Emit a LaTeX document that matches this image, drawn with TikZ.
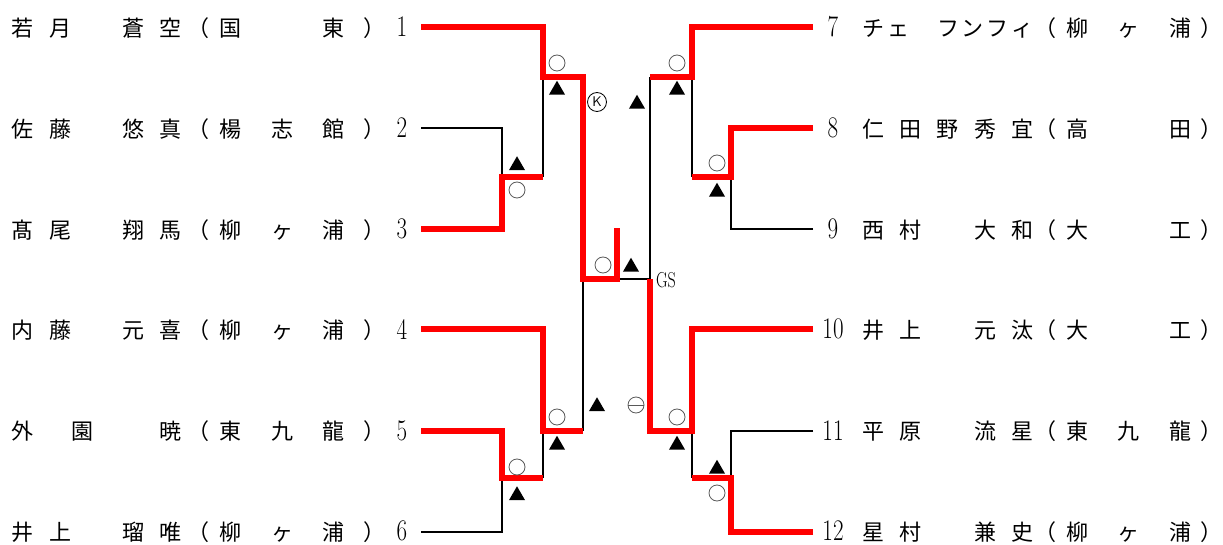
\documentclass[tikz,border=0pt]{standalone}
\usepackage{fontspec}
\newfontfamily\jpfont{Noto Sans CJK JP}
\newfontfamily\jphalt[RawFeature=+halt]{Noto Sans CJK JP}
\usetikzlibrary{shapes.geometric}
\definecolor{winred}{RGB}{255,0,0}
\newcommand\jrow[3]{\foreach \xx/\cc [count=\ii] in {#3} {\node[jp] (#1c\ii) at (\xx,#2) {\cc};}}
\newcommand\lpar{{\jphalt （}}
\newcommand\rpar{{\jphalt ）}}
\begin{document}
\begin{tikzpicture}[x=1pt,y=-1pt,
  jp/.style={font=\jpfont\fontsize{22}{22}\selectfont, inner sep=0pt, anchor=center, text height=16.6pt, text depth=0pt},
  num/.style={font=\fontsize{23}{23}\selectfont, inner sep=0pt, anchor=center},
  win/.style={line width=5.5pt, draw=winred, line join=miter},
  lose/.style={line width=2.6pt, draw=black},
  maru/.style={circle, draw=black!65, line width=0.8pt, minimum size=16pt, inner sep=0pt},
  tri/.style={regular polygon, regular polygon sides=3, minimum size=18.5pt, fill=black, inner sep=0pt},
]
\useasboundingbox (0,0) rectangle (1223,545);

% ---- left names ----
\jrow{L1}{28}{23/若,60/月,133/蒼,170/空,204/\lpar,230/国,333/東,369/\rpar}
\jrow{L2}{129}{23/佐,60/藤,133/悠,170/真,204/\lpar,230/楊,282/志,333/館,369/\rpar}
\jrow{L3}{230}{23/髙,60/尾,133/翔,170/馬,204/\lpar,230/柳,282/ヶ,333/浦,369/\rpar}
\jrow{L4}{330}{23/内,60/藤,133/元,170/喜,204/\lpar,230/柳,282/ヶ,333/浦,369/\rpar}
\jrow{L5}{431}{23/外,82/園,170/暁,204/\lpar,230/東,282/九,333/龍,369/\rpar}
\jrow{L6}{532}{23/井,60/上,133/瑠,170/唯,204/\lpar,230/柳,282/ヶ,333/浦,369/\rpar}
\foreach \n/\yy in {1/27,2/128,3/229,4/329,5/431,6/531}
  {\node[num] (Ln\n) at (402,\yy) {\scalebox{1}[1.3]{\n}};}

% ---- right names ----
\jrow{R7}{28}{873/チ,898/ェ,948/フ,972/ン,997/フ,1022/ィ,1051/\lpar,1077/柳,1128/ヶ,1180/浦,1205.5/\rpar}
\jrow{R8}{129}{873/仁,910/田,947/野,985/秀,1022/宜,1051/\lpar,1077/高,1180/田,1205.5/\rpar}
\jrow{R9}{230}{873/西,910/村,985/大,1022/和,1051/\lpar,1077/大,1180/工,1205.5/\rpar}
\jrow{R10}{330}{873/井,910/上,985/元,1022/汰,1051/\lpar,1077/大,1180/工,1205.5/\rpar}
\jrow{R11}{431}{873/平,910/原,985/流,1022/星,1051/\lpar,1077/東,1128/九,1180/龍,1205.5/\rpar}
\jrow{R12}{532}{873/星,910/村,985/兼,1022/史,1051/\lpar,1077/柳,1128/ヶ,1180/浦,1205.5/\rpar}
\foreach \n/\yy in {7/27,8/128,9/229,10/329,11/431,12/531}
  {\node[num] (Rn\n) at (833,\yy) {\scalebox{1}[1.3]{\n}};}

% ---- coordinates ----
\coordinate (s1) at (421,27);  \coordinate (s2) at (421,128);
\coordinate (s3) at (421,229); \coordinate (s4) at (421,329);
\coordinate (s5) at (421,431); \coordinate (s6) at (421,532);
\coordinate (e7) at (813,27);  \coordinate (e8) at (813,128);
\coordinate (e9) at (813,229); \coordinate (e10) at (813,329);
\coordinate (e11) at (813,431); \coordinate (e12) at (813,532);
\coordinate (L23) at (502,177);
\coordinate (L1a) at (543,77);  \coordinate (L1b) at (543,177);
\coordinate (LS1) at (583,77);  \coordinate (LF) at (583,279);
\coordinate (LS2) at (583,431);
\coordinate (L4a) at (543,431); \coordinate (L4b) at (543,478);
\coordinate (L56) at (502,478);
\coordinate (FL) at (617,279);  \coordinate (FT) at (617,228);
\coordinate (FR) at (650,279);
\coordinate (RS1) at (650,77);  \coordinate (RS2) at (650,431);
\coordinate (R7a) at (692,77);  \coordinate (R7b) at (692,177);
\coordinate (R89) at (731,177);
\coordinate (R10a) at (692,431); \coordinate (R10b) at (692,478);
\coordinate (R1112) at (731,478);

% ---- losing lines ----
\draw[lose] (s2) -| (L23);
\draw[lose] (L1a) -- (L1b);
\draw[lose] (LF) -- (LS2);
\draw[lose] (L4a) -- (L4b);
\draw[lose] (s6) -| (L56);
\draw[lose] (FL) -- (FR) -- (RS1);
\draw[lose] (R7a) -- (R7b);
\draw[lose] (e9) -| (R89);
\draw[lose] (R10a) -- (R10b);
\draw[lose] (e11) -| (R1112);

% ---- winning lines ----
\draw[win] (s1) -| (L1a) -- (LS1) -- (LF) -- (FL) -- (FT);
\draw[win] (s3) -| (L23) -- (L1b);
\draw[win] (s4) -| (L4a) -- (LS2);
\draw[win] (s5) -| (L56) -- (L4b);
\draw[win] (e7) -| (R7a) -- (RS1);
\draw[win] (e8) -| (R89) -- (R7b);
\draw[win] (e10) -| (R10a) -- (RS2) -- (FR);
\draw[win] (e12) -| (R1112) -- (R10b);

% ---- marks ----
\node[maru] (o1) at (557,63) {};
\node[tri] (t1) at (557,90) {};
\node[tri] (t2) at (517,165.5) {};
\node[maru] (o2) at (517,190) {};
\node[circle, draw=black, line width=0.8pt, minimum size=19pt, inner sep=0pt,
      font=\sffamily\fontsize{14}{14}\selectfont] (kk) at (597,102) {K};
\node[maru] (o3) at (677,63) {};
\node[tri] (t3) at (677,90) {};
\node[tri] (t4) at (637,104) {};
\node[maru] (o4) at (717,163) {};
\node[tri] (t5) at (717,192) {};
\node[maru] (o5) at (603,265) {};
\node[tri] (t6) at (631,267) {};
\node[font=\fontsize{16}{16}\selectfont, inner sep=0pt] (gs) at (666,280) {\scalebox{1}[1.35]{GS}};
\node[maru] (o6) at (557,417) {};
\node[tri] (t7) at (557,445) {};
\node[maru] (o7) at (517,467) {};
\node[tri] (t8) at (517,495.5) {};
\node[tri] (t9) at (597,406.5) {};
\node[maru] (mm) at (636,405) {};
\draw[black!65, line width=0.8pt] (mm.west) -- (mm.east);
\node[maru] (o8) at (677,417) {};
\node[tri] (t10) at (677,445) {};
\node[tri] (t11) at (717,469) {};
\node[maru] (o9) at (717,493) {};
\end{tikzpicture}
\end{document}
